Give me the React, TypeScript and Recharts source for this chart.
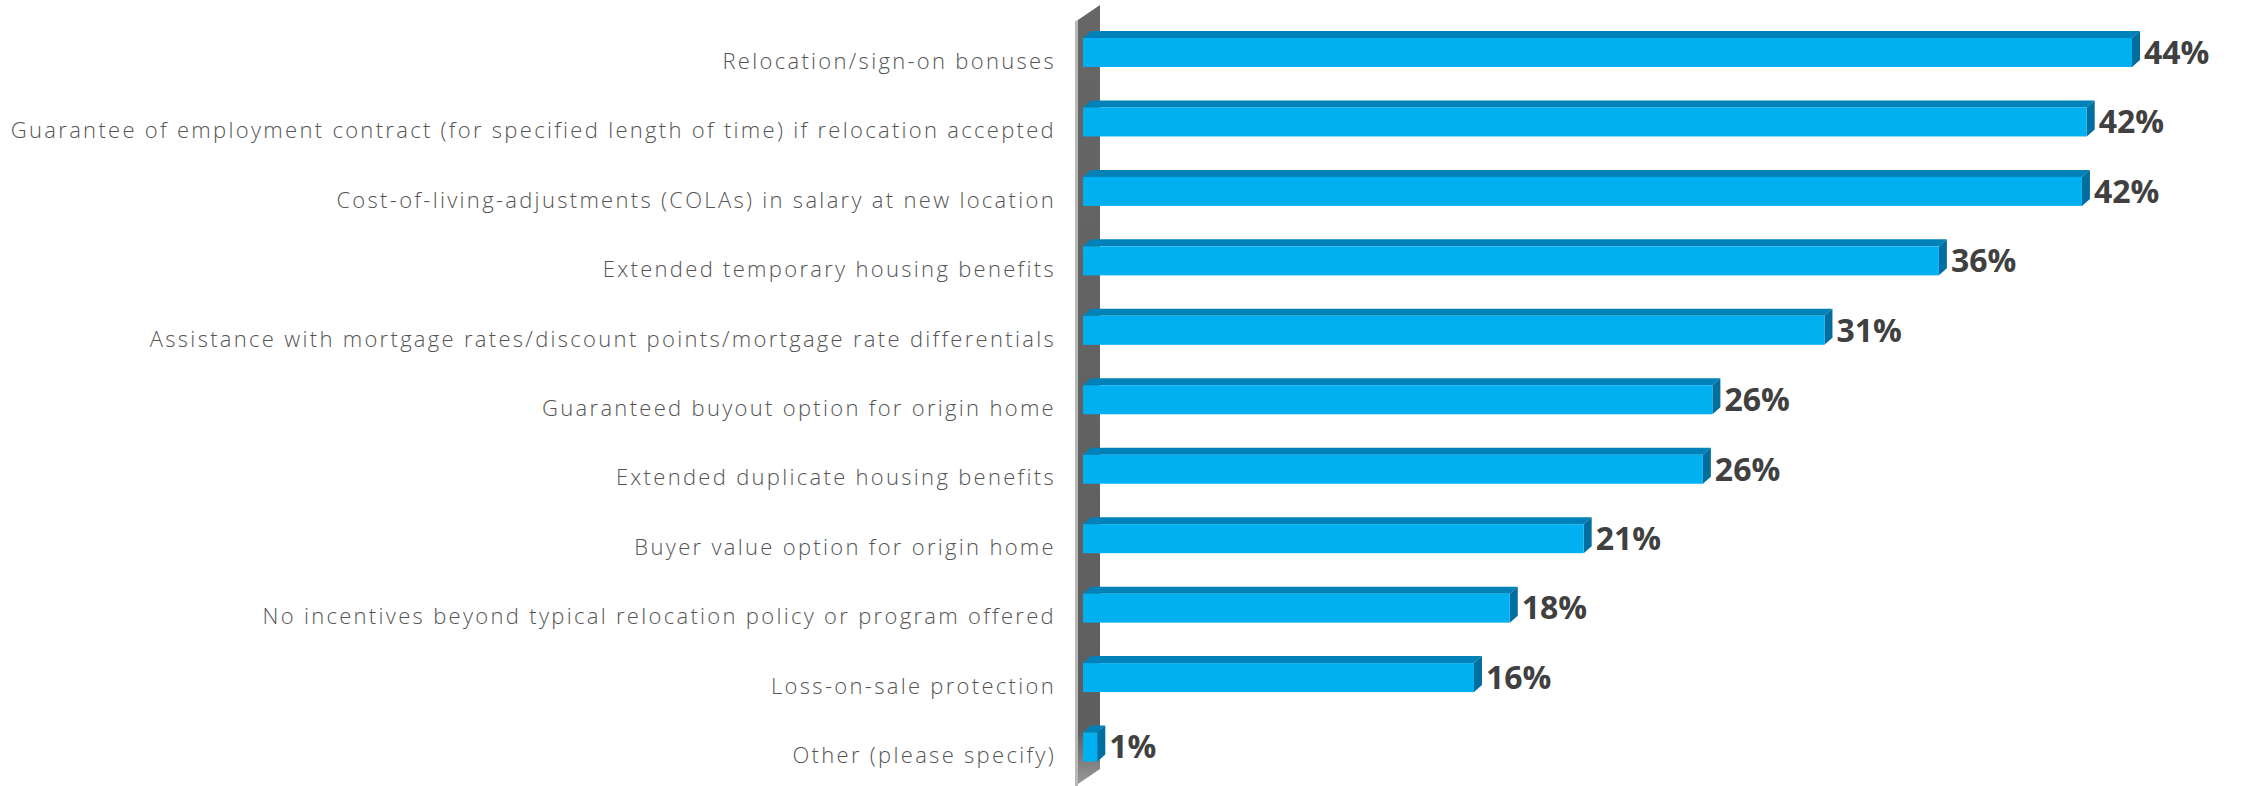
import React from 'react';
import { BarChart, Bar, XAxis, YAxis, LabelList } from 'recharts';

const categories = [
  'Relocation/sign-on bonuses',
  'Guarantee of employment contract (for specified length of time) if relocation accepted',
  'Cost-of-living-adjustments (COLAs) in salary at new location',
  'Extended temporary housing benefits',
  'Assistance with mortgage rates/discount points/mortgage rate differentials',
  'Guaranteed buyout option for origin home',
  'Extended duplicate housing benefits',
  'Buyer value option for origin home',
  'No incentives beyond typical relocation policy or program offered',
  'Loss-on-sale protection',
  'Other (please specify)',
];

const values = [44, 42.1, 41.9, 35.9, 31.1, 26.4, 26.0, 21.0, 17.9, 16.4, 0.6];

const data = categories.map((name, i) => ({ name, value: values[i] }));

const W = 2241;
const H = 786;
const AXIS_W = 1083;
const MARGIN = { top: 18, right: 109, bottom: 4, left: 0 };
const DEPTH_X = 8;
const DEPTH_Y = 7;

// 3d-ish bar: front face + top face + right side face
const Bar3D = (props: any) => {
  const { x, y, width, height } = props;
  if (!width || width <= 0) return null;
  const r = x + width;
  return (
    <g>
      <polygon
        points={`${x},${y} ${x + DEPTH_X},${y - DEPTH_Y} ${r + DEPTH_X},${y - DEPTH_Y} ${r},${y}`}
        fill="#0082b8"
      />
      <polygon
        points={`${r},${y} ${r + DEPTH_X},${y - DEPTH_Y} ${r + DEPTH_X},${y + height - DEPTH_Y} ${r},${y + height}`}
        fill="#006e9e"
      />
      <rect x={x} y={y} width={width} height={height} fill="#00b0f0" />
    </g>
  );
};

const CategoryTick = (props: any) => {
  const { x, y, payload } = props;
  return (
    <text
      x={x}
      y={y + 7}
      textAnchor="end"
      dominantBaseline="central"
      fontFamily="'Open Sans', sans-serif"
      fontSize={22}
      fontWeight={300}
      letterSpacing={2.3}
      fill="#555555"
    >
      {payload.value}
    </text>
  );
};

// grey back wall behind the bars
const Wall = () => {
  const wx = AXIS_W - 8;
  const wr = AXIS_W + 17;
  return (
    <svg width={W} height={H} style={{ position: 'absolute', left: 0, top: 0 }}>
      <defs>
        <linearGradient id="wallFade" x1="0" y1="0" x2="0" y2="1">
          <stop offset="0%" stopColor="#666666" />
          <stop offset="93%" stopColor="#5e5e5e" />
          <stop offset="100%" stopColor="#9a9a9a" />
        </linearGradient>
      </defs>
      <polygon points={`${wx},22 ${wr},5 ${wr},769 ${wx},786`} fill="url(#wallFade)" />
      <polygon points={`${wx},22 ${wx + 3},20 ${wx + 3},786 ${wx},786`} fill="#b8b8b8" />
    </svg>
  );
};

export default function App() {
  return (
    <div style={{ position: 'absolute', left: 0, top: 0, width: W, height: H, background: '#ffffff' }}>
      <Wall />
      <div style={{ position: 'absolute', left: 0, top: 0 }}>
        <BarChart width={W} height={H} data={data} layout="vertical" margin={MARGIN} barSize={29}>
          <XAxis type="number" hide domain={[0, 44]} />
          <YAxis
            type="category"
            dataKey="name"
            width={AXIS_W}
            axisLine={false}
            tickLine={false}
            tickSize={0}
            tickMargin={27}
            interval={0}
            tick={<CategoryTick />}
          />
          <Bar dataKey="value" shape={<Bar3D />} isAnimationActive={false}>
            <LabelList
              dataKey="value"
              position="right"
              offset={12}
              formatter={(v: any) => `${Math.round(Number(v))}%`}
              fill="#404040"
              fontSize={32}
              fontWeight={700}
              fontFamily="'Open Sans', sans-serif"
            />
          </Bar>
        </BarChart>
      </div>
    </div>
  );
}
